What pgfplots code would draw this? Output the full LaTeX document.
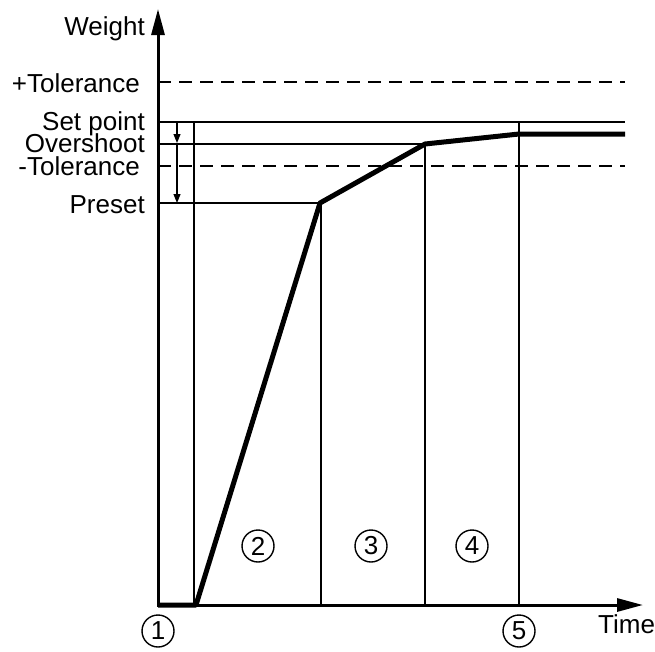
\documentclass[border=0pt]{standalone}
\usepackage{pgfplots}
\pgfplotsset{compat=1.18}
\usepackage{fontspec}
\setmainfont{Liberation Sans}
\usetikzlibrary{arrows.meta}
\tikzset{lbl/.style={font=\fontsize{26}{28}\selectfont, inner sep=0pt}}
\begin{document}
\begin{tikzpicture}
\useasboundingbox (0,0) rectangle (655pt,651pt);
\begin{axis}[at={(0,0)}, anchor=south west, scale only axis,
  width=655pt, height=651pt, xmin=0, xmax=655, ymin=0, ymax=651,
  y dir=reverse, axis lines=none, clip=false]
% tolerance lines (dashed)
\addplot[black, line width=2pt, dash pattern=on 13pt off 8pt] coordinates {(158,82) (625,82)};
\addplot[black, line width=2pt, dash pattern=on 13pt off 8pt] coordinates {(158,166) (625,166)};
% set point
\addplot[black, line width=2.5pt] coordinates {(158,122) (625,122)};
% overshoot and preset
\addplot[black, line width=1.1pt] coordinates {(158,144) (425,144)};
\addplot[black, line width=1.1pt] coordinates {(158,203) (320,203)};
% verticals
\addplot[black, line width=1.1pt] coordinates {(194,122) (194,605)};
\addplot[black, line width=1.1pt] coordinates {(321,203) (321,605)};
\addplot[black, line width=1.1pt] coordinates {(425,144) (425,605)};
\addplot[black, line width=1.1pt] coordinates {(519,122) (519,605)};
% double arrow
\addplot[black, line width=1.1pt, -{Triangle[length=9pt,width=7pt]}] coordinates {(177,122) (177,143)};
\addplot[black, line width=1.1pt, -{Triangle[length=9pt,width=7pt]}] coordinates {(177,143) (177,203)};
% axes
\addplot[black, line width=3pt, -{Triangle[length=26pt,width=13pt]}] coordinates {(158,605) (158,9)};
\addplot[black, line width=3pt, -{Triangle[length=26pt,width=13pt]}] coordinates {(157,605) (643,605)};
% weight curve
\addplot[black, line width=5pt, line join=round] coordinates {(158,605) (196,605) (320,203) (425,144) (519,134) (625,134)};
% labels
\node[lbl, anchor=base east] at (axis cs:145,35) {Weight};
\node[lbl, anchor=base east] at (axis cs:140,92) {+Tolerance};
\node[lbl, anchor=base east] at (axis cs:145,130) {Set point};
\node[lbl, anchor=base east] at (axis cs:145,152) {Overshoot};
\node[lbl, anchor=base east] at (axis cs:140,175) {-Tolerance};
\node[lbl, anchor=base east] at (axis cs:145,213) {Preset};
\node[lbl, anchor=base west] at (axis cs:598,633) {Time};
% circled numbers
\foreach \n/\x/\y in {1/158/631, 2/258/546, 3/371/546, 4/472/546, 5/519/631}{
  \edef\tmp{\noexpand\node[lbl, draw, circle, line width=1.4pt, minimum size=32pt] at (axis cs:\x,\y) {\n};}
  \tmp
}
\end{axis}
\end{tikzpicture}
\end{document}
